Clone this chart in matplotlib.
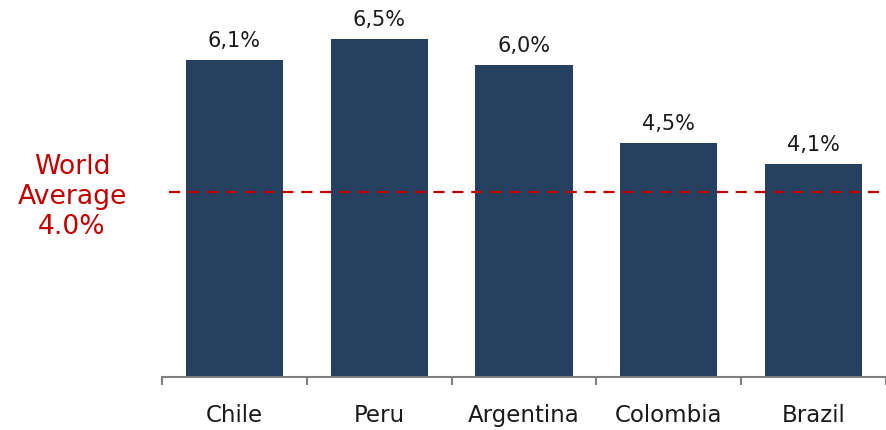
import matplotlib
matplotlib.use("Agg")
import matplotlib.pyplot as plt

categories = ["Chile", "Peru", "Argentina", "Colombia", "Brazil"]
values = [6.1, 6.5, 6.0, 4.5, 4.1]
value_labels = ["6,1%", "6,5%", "6,0%", "4,5%", "4,1%"]
world_avg_label = "World\nAverage\n4.0%"
world_avg_line = 3.56  # position of the dashed line as drawn in the reference

W, H = 886, 431
fig = plt.figure(figsize=(W / 100, H / 100), dpi=100)
ax = fig.add_axes([162 / W, (H - 378) / H, (W - 162) / W, 378 / H])

x = list(range(len(categories)))
ax.bar(x, values, width=0.67, color="#26405F", zorder=2)
for xi, v, lab in zip(x, values, value_labels):
    ax.annotate(lab, (xi, v), xytext=(0, 7), textcoords="offset points",
                ha="center", va="bottom", fontsize=15, color="#1a1a1a")

ax.plot([-0.45, 4.5], [world_avg_line, world_avg_line], color="#C00000",
        lw=1.6, dashes=(5, 3.5), zorder=3)

ax.set_xlim(-0.5, 4.5)
ax.set_ylim(0, 7.27)
ax.set_yticks([])
for s in ["top", "right", "left"]:
    ax.spines[s].set_visible(False)
ax.spines["bottom"].set_color("#808080")
ax.spines["bottom"].set_linewidth(1.5)

ax.set_xticks([i - 0.5 for i in range(len(categories) + 1)], minor=False)
ax.set_xticklabels([""] * (len(categories) + 1))
ax.tick_params(axis="x", which="major", length=6, width=1.5, color="#808080", direction="out")
ax.set_xticks(x, minor=True)
ax.set_xticklabels(categories, minor=True, fontsize=16.5, color="#1a1a1a")
ax.tick_params(axis="x", which="minor", length=0, pad=19)

fig.text(72 / W, 1 - 197 / H, world_avg_label, color="#C00000", fontsize=19.2,
         ha="center", va="center", linespacing=1.22)

fig.savefig("out.png", dpi=100)
